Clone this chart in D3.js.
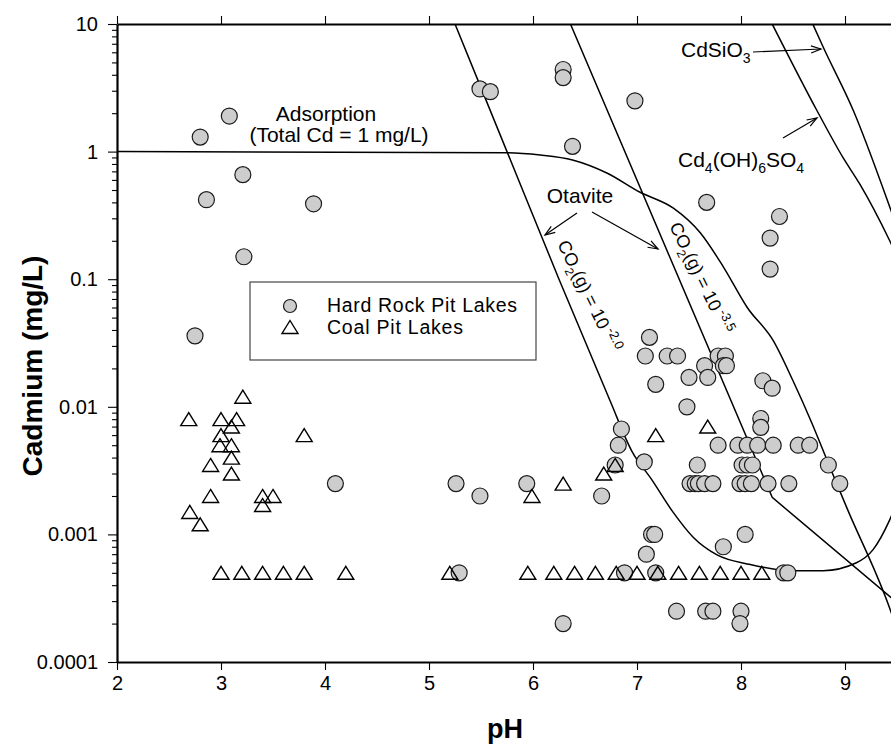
<!DOCTYPE html>
<html>
<head>
<meta charset="utf-8">
<script src="https://cdn.jsdelivr.net/npm/d3@7/dist/d3.min.js"></script>
<style>
body { margin: 0; background: #fff; }
text { font-family: "Liberation Sans", Arial, sans-serif; fill: #000; }
</style>
</head>
<body>
<div id="chart"></div>
<script>
// values: [pH, Cd mg/L]
const hardRockLakes = [
    [2.80, 1.3], [3.08, 1.9], [2.86, 0.42], [3.21, 0.66], [3.89, 0.39], [3.22, 0.15], [2.75, 0.036], [4.10, 0.0025],
    [5.49, 3.1], [5.59, 2.95], [6.29, 4.4], [6.29, 3.8], [6.98, 2.5], [6.38, 1.1],
    [7.67, 0.40], [8.37, 0.31], [8.28, 0.21], [8.28, 0.12],
    [7.12, 0.035], [7.08, 0.025], [7.29, 0.025], [7.39, 0.025], [7.18, 0.015], [7.50, 0.017],
    [7.65, 0.021], [7.68, 0.017], [7.78, 0.025], [7.85, 0.025], [7.83, 0.021], [7.86, 0.021],
    [7.48, 0.010], [8.21, 0.016], [8.30, 0.014], [8.19, 0.0081], [8.19, 0.0069],
    [6.85, 0.0067], [6.82, 0.005],
    [7.78, 0.005], [7.97, 0.005], [8.06, 0.005], [8.16, 0.005], [8.31, 0.005], [8.55, 0.005], [8.66, 0.005],
    [7.07, 0.0037], [6.79, 0.0035], [7.58, 0.0035], [8.01, 0.0035], [8.06, 0.0035], [8.11, 0.0035], [8.84, 0.0035],
    [5.26, 0.0025], [5.94, 0.0025], [7.51, 0.0025], [7.56, 0.0025], [7.59, 0.0025], [7.65, 0.0025], [7.73, 0.0025],
    [7.99, 0.0025], [8.04, 0.0025], [8.10, 0.0025], [8.26, 0.0025], [8.46, 0.0025], [8.95, 0.0025],
    [5.49, 0.002], [6.66, 0.002],
    [7.14, 0.001], [7.17, 0.001], [7.09, 0.0007], [7.83, 0.0008], [8.04, 0.001],
    [5.29, 0.0005], [6.88, 0.0005], [7.18, 0.0005], [8.41, 0.0005], [8.45, 0.0005],
    [6.29, 0.0002], [7.38, 0.00025], [7.66, 0.00025], [7.73, 0.00025], [8.00, 0.00025], [7.99, 0.0002]
];

const coalLakes = [
    [3.21, 0.012], [2.69, 0.008], [3.0, 0.008], [3.15, 0.008], [3.1, 0.007], [3.0, 0.006],
    [2.99, 0.005], [3.1, 0.005], [3.1, 0.004], [2.9, 0.0035], [3.1, 0.003], [3.8, 0.006],
    [2.9, 0.002], [3.4, 0.002], [3.5, 0.002], [3.4, 0.0017], [2.7, 0.0015], [2.8, 0.0012],
    [3.0, 0.0005], [3.2, 0.0005], [3.4, 0.0005], [3.6, 0.0005], [3.8, 0.0005], [4.2, 0.0005],
    [5.2, 0.0005], [5.95, 0.0005], [6.2, 0.0005], [6.4, 0.0005], [6.6, 0.0005], [6.8, 0.0005],
    [7.0, 0.0005], [7.2, 0.0005], [7.4, 0.0005], [7.6, 0.0005], [7.8, 0.0005], [8.0, 0.0005], [8.2, 0.0005],
    [6.29, 0.0025], [5.99, 0.002], [6.68, 0.003], [6.79, 0.0035], [7.18, 0.006], [7.68, 0.007]
];

// solubility / adsorption lines
const adsorptionCurve = [
    [2, 1], [5.75, 0.98], [6.07, 0.94], [6.38, 0.86], [6.71, 0.68], [7.03, 0.48], [7.35, 0.36],
    [7.61, 0.23], [7.83, 0.125], [8.06, 0.06], [8.31, 0.033], [8.5, 0.016], [8.68, 0.0075],
    [8.84, 0.0036], [9.02, 0.0016], [9.44, 0.00025], [9.6, 0.0001]
];
const otaviteCO2High = [
    [5.25, 10], [5.75, 1.0], [6.25, 0.1], [6.74, 0.0112], [6.95, 0.0045], [7.14, 0.0027], [7.35, 0.00148],
    [7.54, 0.00095], [7.77, 0.00069], [8.09, 0.00058], [8.47, 0.00052], [8.79, 0.00052],
    [9.11, 0.0006], [9.27, 0.00076], [9.43, 0.0013], [9.6, 0.003]
];
const otaviteCO2Low = [[6.36, 10], [8.30, 0.00195], [9.6, 0.00025]];
const cd4ohso4Line = [[8.30, 10], [8.73, 2.1], [8.98, 0.9], [9.14, 0.56], [9.43, 0.2], [9.6, 0.1]];
const cdsio3Line = [[8.69, 10], [8.79, 6.6], [9.08, 2.1], [9.44, 0.35], [9.6, 0.15]];

const xTicks = [2, 3, 4, 5, 6, 7, 8, 9];
const yTicks = [0.0001, 0.001, 0.01, 0.1, 1, 10];
const yTickLabels = ["0.0001", "0.001", "0.01", "0.1", "1", "10"];

const margin = {top: 24, left: 117};
const width = 832, height = 638;
const fillGray = "#cdcdcd";

const svg = d3.select("#chart").append("svg")
    .attr("width", 891)
    .attr("height", 747);

const g = svg.append("g")
    .attr("transform", "translate(" + margin.left + "," + margin.top + ")");

const x = d3.scaleLinear().domain([2, 10]).range([0, width]);
const y = d3.scaleLog().domain([0.0001, 10]).range([height, 0]);

g.append("clipPath").attr("id", "plot-clip")
    .append("rect").attr("width", width).attr("height", height);

// arrow head
svg.append("defs").append("marker")
    .attr("id", "arrow")
    .attr("markerUnits", "userSpaceOnUse")
    .attr("markerWidth", 14).attr("markerHeight", 12)
    .attr("refX", 0).attr("refY", 0)
    .attr("viewBox", "-12 -6 14 12")
    .attr("orient", "auto")
    .append("path")
    .attr("d", "M-10,-3.6L0,0L-10,3.6")
    .attr("fill", "none").attr("stroke", "#000").attr("stroke-width", 1.2);

const plot = g.append("g").attr("clip-path", "url(#plot-clip)");

const smooth = d3.line().x(d => x(d[0])).y(d => y(d[1])).curve(d3.curveMonotoneX);
const straight = d3.line().x(d => x(d[0])).y(d => y(d[1]));

[[adsorptionCurve, smooth], [otaviteCO2High, smooth], [otaviteCO2Low, straight],
 [cd4ohso4Line, smooth], [cdsio3Line, smooth]].forEach(([data, gen]) => {
    plot.append("path")
        .attr("d", gen(data))
        .attr("fill", "none")
        .attr("stroke", "#000")
        .attr("stroke-width", 1.5);
});

plot.selectAll(".hard").data(hardRockLakes).enter().append("circle")
    .attr("class", "hard")
    .attr("cx", d => x(d[0]))
    .attr("cy", d => y(d[1]))
    .attr("r", 8)
    .attr("fill", fillGray)
    .attr("stroke", "#1a1a1a")
    .attr("stroke-width", 1.2);

const tri = "M0,-6.5L8,6.5L-8,6.5Z";
plot.selectAll(".coal").data(coalLakes).enter().append("path")
    .attr("class", "coal")
    .attr("d", tri)
    .attr("transform", d => "translate(" + x(d[0]) + "," + y(d[1]) + ")")
    .attr("fill", "none")
    .attr("stroke", "#000")
    .attr("stroke-width", 1.4);

// axes
g.append("g")
    .attr("transform", "translate(0," + height + ")")
    .call(d3.axisBottom(x).tickValues(xTicks).tickSize(8).tickSizeOuter(0).tickPadding(6).tickFormat(d3.format("d")));
g.append("g")
    .call(d3.axisTop(x).tickValues(xTicks).tickSize(8).tickSizeOuter(0).tickFormat(""));
g.append("g")
    .call(d3.axisLeft(y).tickValues(yTicks).tickSize(9).tickSizeOuter(0).tickPadding(10)
        .tickFormat((d, i) => yTickLabels[i]));

const minorTicks = [];
yTicks.slice(0, -1).forEach(t => { for (let k = 2; k <= 9; k++) minorTicks.push(t * k); });
g.append("g")
    .call(d3.axisLeft(y).tickValues(minorTicks).tickSize(5).tickSizeOuter(0).tickFormat(""))
    .select(".domain").remove();

g.selectAll(".domain").attr("stroke-width", 2.2);
g.selectAll(".tick line").attr("stroke-width", 1.1);
g.selectAll(".tick text")
    .attr("font-family", "'Liberation Sans', Arial, sans-serif")
    .attr("font-size", 20);

// axis titles
svg.append("text")
    .attr("x", 505).attr("y", 738)
    .attr("text-anchor", "middle")
    .attr("font-size", 27).attr("font-weight", "bold")
    .text("pH");
svg.append("text")
    .attr("transform", "translate(42,366) rotate(-90)")
    .attr("text-anchor", "middle")
    .attr("font-size", 28).attr("font-weight", "bold")
    .text("Cadmium (mg/L)");

// annotations
svg.append("text").attr("x", 326).attr("y", 121).attr("text-anchor", "middle")
    .attr("font-size", 21).text("Adsorption");
svg.append("text").attr("x", 339).attr("y", 142).attr("text-anchor", "middle")
    .attr("font-size", 21).text("(Total Cd = 1 mg/L)");
svg.append("text").attr("x", 580).attr("y", 203).attr("text-anchor", "middle")
    .attr("font-size", 21).text("Otavite");

const cdsio3 = svg.append("text").attr("x", 681).attr("y", 57).attr("font-size", 21);
cdsio3.append("tspan").text("CdSiO");
cdsio3.append("tspan").attr("dy", 6).attr("font-size", 14).text("3");

const cd4 = svg.append("text").attr("x", 678).attr("y", 167).attr("font-size", 21);
cd4.append("tspan").text("Cd");
cd4.append("tspan").attr("dy", 6).attr("font-size", 14).text("4");
cd4.append("tspan").attr("dy", -6).text("(OH)");
cd4.append("tspan").attr("dy", 6).attr("font-size", 14).text("6");
cd4.append("tspan").attr("dy", -6).text("SO");
cd4.append("tspan").attr("dy", 6).attr("font-size", 14).text("4");

function co2Label(px, py, exponent) {
    const t = svg.append("text")
        .attr("transform", "translate(" + px + "," + py + ") rotate(64)")
        .attr("font-size", 18);
    t.append("tspan").text("CO");
    t.append("tspan").attr("dy", 5).attr("font-size", 12).text("2");
    t.append("tspan").attr("dy", -5).text("(g) = 10");
    t.append("tspan").attr("dy", -7).attr("dx", 3).attr("font-size", 13).text(exponent);
}
co2Label(557, 244, "-2.0");
co2Label(669, 226, "-3.5");

const arrows = [
    [[753, 52], [821, 49]],
    [[783, 138], [817, 118]],
    [[577, 213], [545, 235]],
    [[592, 212], [658, 249]]
];
arrows.forEach(a => {
    svg.append("line")
        .attr("x1", a[0][0]).attr("y1", a[0][1])
        .attr("x2", a[1][0]).attr("y2", a[1][1])
        .attr("stroke", "#000").attr("stroke-width", 1.2)
        .attr("marker-end", "url(#arrow)");
});

// legend
const legend = svg.append("g");
legend.append("rect")
    .attr("x", 250).attr("y", 282).attr("width", 286).attr("height", 78)
    .attr("fill", "#fff").attr("stroke", "#444").attr("stroke-width", 1.2);
legend.append("circle").attr("cx", 290).attr("cy", 306).attr("r", 6.5)
    .attr("fill", fillGray).attr("stroke", "#1a1a1a").attr("stroke-width", 1.2);
legend.append("path").attr("d", tri).attr("transform", "translate(290,327)")
    .attr("fill", "none").attr("stroke", "#000").attr("stroke-width", 1.4);
legend.append("text").attr("x", 327).attr("y", 312).attr("font-size", 19.5)
    .attr("textLength", 190).attr("lengthAdjust", "spacing").text("Hard Rock Pit Lakes");
legend.append("text").attr("x", 327).attr("y", 334).attr("font-size", 19.5)
    .attr("textLength", 136).attr("lengthAdjust", "spacing").text("Coal Pit Lakes");
</script>
</body>
</html>
